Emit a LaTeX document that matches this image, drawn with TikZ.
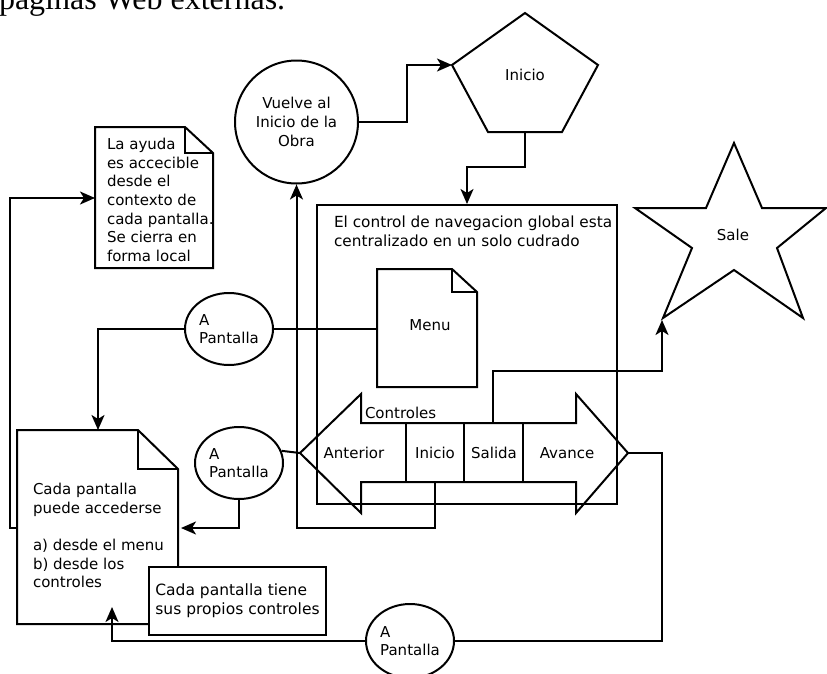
\documentclass[tikz,border=0pt]{standalone}
\usepackage{fontspec}
\setmainfont{DejaVu Sans}
\newfontfamily\tituloserif{Liberation Serif}
\usetikzlibrary{arrows.meta,shapes.geometric,positioning}

\begin{document}
\begin{tikzpicture}[x=1pt,y=-1pt,line width=2pt,
    flecha/.style={-{Stealth[length=15pt,width=13pt,inset=4pt]}},
    txt/.style={inner sep=0pt,align=left,font=\fontsize{15}{18.7}\selectfont},
    pant/.style={draw,ellipse,inner sep=0pt,minimum width=88pt,minimum height=72pt,
      align=left,font=\fontsize{15}{18}\selectfont}]
		\useasboundingbox (0,0) rectangle (827,673);
		\clip (0,0) rectangle (827,673);
		% texto cortado arriba
		\node[anchor=base west,inner sep=0pt,font=\tituloserif\fontsize{32}{36}\selectfont] (titulo) at (-2,9) {páginas Web externas.};

		% ayuda
		\draw (95,127) -- (185,127) -- (213,153) -- (213,268) -- (95,268) -- cycle;
		\draw (185,127) -- (185,153) -- (213,153);
		\node[txt,anchor=north west] (ayuda) at (106,137) {La ayuda\\es accecible\\desde el\\contexto de\\cada pantalla.\\Se cierra en\\forma local};
		\coordinate (ayuda-w) at (95,198);

		% vuelve al inicio
		\node[draw,circle,minimum size=123pt,inner sep=0pt,align=center,font=\fontsize{15}{19}\selectfont] (vuelve) at (296.5,122) {Vuelve al\\Inicio de la\\Obra};

		% inicio (pentagono)
		\draw (525,13) -- (598,65) -- (562,132) -- (488,132) -- (452,65) -- cycle;
		\node[txt] (inicio) at (525,75) {Inicio};
		\coordinate (inicio-w) at (452,65);
		\coordinate (inicio-s) at (525,132);

		% sale (estrella)
		\draw (734,143) -- (762,208) -- (826,208) -- (777,248) -- (803,318) -- (734,270) -- (663,318) -- (692,248) -- (635,208) -- (706,208) -- cycle;
		\node[txt] (sale) at (733,235) {Sale};
		\coordinate (sale-bl) at (662,320);

		% cuadrado de navegacion
		\node[draw,minimum width=300pt,minimum height=299pt,inner sep=0pt] (nav) at (467,354.5) {};
		\node[txt,anchor=north west,font=\fontsize{15.3}{19}\selectfont] (navtxt) at (333,215) {El control de navegacion global esta\\centralizado en un solo cudrado};

		% menu
		\draw (377,269) -- (452,269) -- (477,292) -- (477,387) -- (377,387) -- cycle;
		\draw (452,269) -- (452,292) -- (477,292);
		\node[txt] (menu) at (430,325) {Menu};
		\coordinate (menu-w) at (377,329);

		% controles
		\draw (300,453) -- (361,394) -- (361,423) -- (576,423) -- (576,394) -- (628,453) -- (576,513) -- (576,482) -- (361,482) -- (361,513) -- cycle;
		\draw (406,423) -- (406,482);
		\draw (464,423) -- (464,482);
		\draw (523,423) -- (523,482);
		\node[txt,anchor=west] (controles) at (364,413) {Controles};
		\node[txt] (anterior) at (354,453) {Anterior};
		\node[txt] (inicioc) at (435,453) {Inicio};
		\node[txt] (salida) at (494,453) {Salida};
		\node[txt] (avance) at (567,453) {Avance};
		\coordinate (anterior-w) at (300,453);
		\coordinate (avance-e) at (628,453);
		\coordinate (salida-n) at (493,423);
		\coordinate (inicioc-s) at (435,482);

		% cada pantalla
		\draw (17,430) -- (138,430) -- (178,469) -- (178,624) -- (17,624) -- cycle;
		\draw (138,430) -- (138,469) -- (178,469);
		\node[txt,anchor=north west] (cada) at (32,482) {Cada pantalla\\puede accederse\\[0pt]\\a) desde el menu\\b) desde los\\controles};
		\coordinate (cada-n) at (98,430);
		\coordinate (cada-e) at (181,528);
		\coordinate (cada-w) at (17,528);
		\coordinate (cada-in) at (112,607);
		\node[draw,fill=white,txt,inner xsep=6pt,minimum width=173pt,minimum height=68pt,font=\fontsize{15.5}{19}\selectfont] (propios) at (237.5,601) {Cada pantalla tiene\\sus propios controles};

		% a pantalla
		\node[pant] (pant1) at (229,329) {A\\Pantalla};
		\node[pant] (pant2) at (239,463) {A\\Pantalla};
		\node[pant,minimum height=74pt] (pant3) at (410,641) {A\\Pantalla};

		% conexiones
		\draw[flecha] (vuelve.east) -- ++(48,0) |- (inicio-w);
		\draw[flecha] (inicio-s) -- ++(0,35) -| (nav.north);
		\draw (menu-w) -- (pant1.east);
		\draw[flecha] (pant1.west) -| (cada-n);
		\draw (anterior-w) -- (pant2.16);
		\draw[flecha] (pant2.south) |- (cada-e);
		\draw[flecha] (cada-w) -- ++(-7,0) |- (ayuda-w);
		\draw[flecha] (salida-n) -- ++(0,-52) -| (sale-bl);
		\draw[flecha] (inicioc-s) -- ++(0,46) -| (vuelve.south);
		\draw (avance-e) -- ++(34,0) |- (pant3.east);
		\draw[flecha] (pant3.west) -| (cada-in);
		\end{tikzpicture}
\end{document}
